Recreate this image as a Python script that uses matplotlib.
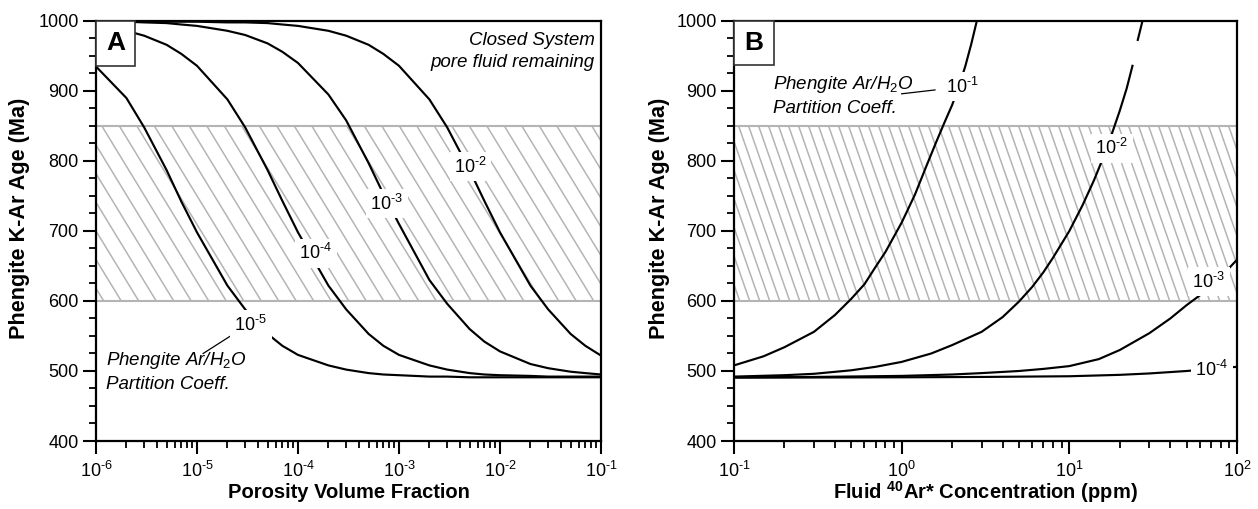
import matplotlib

matplotlib.use("Agg")

import matplotlib.pyplot as plt  # noqa: E402
import matplotlib.transforms as mtransforms  # noqa: E402
import numpy as np  # noqa: E402
from matplotlib.patches import Rectangle  # noqa: E402
from matplotlib.ticker import (FuncFormatter, LogLocator, MultipleLocator,  # noqa: E402
                               NullFormatter)

plt.rcParams.update({
    "font.family": ["Liberation Sans", "DejaVu Sans"],
    "mathtext.fontset": "custom",
    "mathtext.rm": "Liberation Sans",
    "mathtext.it": "Liberation Sans:italic",
    "mathtext.bf": "Liberation Sans:bold",
})

HYPHEN = "\u2010"

# --- panel A: age vs porosity, closed system --------------------------------
POROSITY = [1e-6, 2e-6, 3e-6, 5e-6, 7e-6, 1e-5, 2e-5, 3e-5, 5e-5, 7e-5,
            1e-4, 2e-4, 3e-4, 5e-4, 7e-4, 1e-3, 2e-3, 3e-3, 5e-3, 7e-3,
            1e-2, 2e-2, 3e-2, 5e-2, 7e-2, 1e-1]
AGE_A_1E5 = [935, 890, 848, 787, 742, 698, 622, 588, 553, 536,
             523, 508, 502, 497, 495, 494, 492, 492, 491, 491,
             491, 491, 491, 491, 491, 491]
AGE_A_1E4 = [993, 986, 979, 966, 953, 936, 888, 848, 787, 743,
             698, 622, 588, 553, 536, 523, 508, 502, 497, 495,
             494, 493, 492, 492, 492, 492]
AGE_A_1E3 = [999, 999, 998, 997, 995, 993, 986, 980, 968, 956,
             940, 895, 858, 797, 753, 710, 630, 596, 560, 542,
             528, 510, 504, 499, 497, 495]
AGE_A_1E2 = [1000, 1000, 1000, 999, 999, 999, 998, 998, 997, 995,
             993, 986, 979, 966, 953, 936, 888, 848, 787, 743,
             698, 622, 588, 553, 536, 522]
EXP_A = [-5, -4, -3, -2]
LABEL_X_A = [3.4e-5, 1.5e-4, 7.55e-4, 5.1e-3]
LABEL_Y_A = [566, 668, 739, 792]

# --- panel B: age vs fluid 40Ar* concentration --------------------------------
CONC_1E1 = [0.1, 0.15, 0.2, 0.3, 0.4, 0.5, 0.6, 0.7, 0.8, 1.0,
            1.2, 1.4, 1.6, 1.8, 2.0, 2.2, 2.4, 2.6, 2.8]
AGE_B_1E1 = [508, 521, 534, 556, 580, 603, 624, 649, 670, 712,
             752, 792, 826, 855, 880, 907, 936, 967, 999]
CONC_1E2 = [0.1, 0.2, 0.3, 0.5, 0.7, 1, 1.5, 2, 3, 4, 5, 6, 7, 8,
            10, 12, 14, 16, 18, 20, 22, 23.8, 24.7, 25.6, 27.3]
AGE_B_1E2 = [492, 494, 496, 501, 506, 513, 525, 537, 556, 577, 599, 620, 641, 662,
             700, 737, 772, 806, 840, 872, 904, 936, np.nan, 973, 1000]
CONC_1E3 = [0.1, 0.3, 1, 2, 3, 5, 7, 10, 15, 20, 30, 40, 50, 60, 70, 85, 100]
AGE_B_1E3 = [491, 491.5, 493, 495, 497, 500, 503, 507, 517, 530, 554, 575, 594,
             608, 622, 641, 659]
CONC_1E4 = [0.1, 1, 3, 10, 20, 30, 50, 70, 100]
AGE_B_1E4 = [490.5, 491, 491.5, 492.5, 494.5, 496.5, 500, 503, 506]
EXP_B = [-1, -2, -3, -4]
LABEL_X_B = [2.31, 17.9, 67.9, 70.5]
LABEL_Y_B = [906, 818, 627.6, 502]

BAND = (600, 850)
GRAY = "#b4b4b4"
FS_TICK = 13
FS_NOTE = 13.5

DPI = 100
fig = plt.figure(figsize=(12.58, 5.09), dpi=DPI)
ax_a = fig.add_axes([96 / 1258, 68 / 509, 505 / 1258, 420 / 509])
ax_b = fig.add_axes([734 / 1258, 68 / 509, 503 / 1258, 420 / 509])


def _pow10(exp):
    sign = HYPHEN if exp < 0 else ""
    return "$10^{%s%d}$" % (sign, abs(exp))


def _hatch_band(ax, step_px, slope, phase_px):
    """Gray diagonal hatching of the 600-850 Ma band, drawn as plain lines."""
    lo, hi = BAND
    ax.axhline(lo, color=GRAY, lw=1.5, zorder=1)
    ax.axhline(hi, color=GRAY, lw=1.5, zorder=1)
    bbox = ax.get_position()
    w_px = bbox.width * fig.get_figwidth() * DPI
    h_px = bbox.height * fig.get_figheight() * DPI
    band_px = (hi - lo) / 600 * h_px
    shift = band_px / slope
    trans = mtransforms.blended_transform_factory(ax.transAxes, ax.transData)
    x0 = phase_px - np.ceil(shift / step_px) * step_px
    while x0 < w_px:
        ax.plot([x0 / w_px, (x0 + shift) / w_px], [hi - 1.5, lo + 1.5],
                color=GRAY, lw=1.1, transform=trans, zorder=1)
        x0 += step_px


def _style_axis(ax, xlabel, xlabel_y, ylabel_x):
    ax.set_ylim(400, 1000)
    ax.yaxis.set_major_locator(MultipleLocator(100))
    ax.yaxis.set_minor_locator(MultipleLocator(25))
    ax.xaxis.set_major_locator(LogLocator(base=10, numticks=20))
    ax.xaxis.set_minor_locator(LogLocator(base=10, subs=np.arange(2, 10), numticks=20))
    ax.xaxis.set_major_formatter(FuncFormatter(lambda v, _: _pow10(int(round(np.log10(v))))))
    ax.xaxis.set_minor_formatter(NullFormatter())
    ax.tick_params(which="major", direction="out", length=9.5, width=1.5,
                   labelsize=FS_TICK, top=False, right=False, pad=3)
    ax.tick_params(axis="x", which="major", pad=5)
    ax.tick_params(which="minor", direction="out", length=5, width=1.3,
                   top=False, right=False)
    for spine in ax.spines.values():
        spine.set_linewidth(1.6)
        spine.set_zorder(5)
    ax.set_xlabel(xlabel, fontsize=14.5, fontweight="bold")
    ax.set_ylabel("Phengite K-Ar Age (Ma)", fontsize=15.6, fontweight="bold")
    ax.xaxis.set_label_coords(0.5, xlabel_y)
    ax.yaxis.set_label_coords(ylabel_x, 0.53)


def _panel_letter(ax, letter, w_px, h_px):
    bbox = ax.get_position()
    aw = bbox.width * fig.get_figwidth() * DPI
    ah = bbox.height * fig.get_figheight() * DPI
    ax.add_patch(Rectangle((0, 1 - h_px / ah), w_px / aw, h_px / ah,
                           transform=ax.transAxes, fc="white", ec="#333333",
                           lw=1.2, zorder=6, clip_on=False))
    ax.text(w_px / aw / 2, 1 - h_px / ah / 2, letter, transform=ax.transAxes,
            ha="center", va="center", fontsize=19, fontweight="bold", zorder=7)


def _curve_labels(ax, exps, xs, ys):
    for exp, x, y in zip(exps, xs, ys):
        ax.text(x, y, _pow10(exp), fontsize=FS_TICK, ha="center", va="center", zorder=4,
                bbox=dict(boxstyle="square,pad=0.25", fc="white", ec="none"))


# ----- panel A -----
ax = ax_a
ax.set_xscale("log")
ax.set_xlim(1e-6, 1e-1)
_hatch_band(ax, step_px=17.5, slope=29 / 17.5, phase_px=6.5)
for ages in (AGE_A_1E5, AGE_A_1E4, AGE_A_1E3, AGE_A_1E2):
    ax.plot(POROSITY, ages, color="black", lw=1.55, zorder=3)
_curve_labels(ax, EXP_A, LABEL_X_A, LABEL_Y_A)
ax.plot([1.15e-5, 2.2e-5], [525, 551], color="black", lw=0.9, zorder=3)
ax.text(0.02, 0.166, "Phengite Ar/H$_2$O\nPartition Coeff.", transform=ax.transAxes,
        ha="left", va="center", fontsize=FS_NOTE, fontstyle="italic", linespacing=1.35)
ax.text(0.988, 0.927, "Closed System\npore fluid remaining", transform=ax.transAxes,
        ha="right", va="center", fontsize=FS_NOTE, fontstyle="italic", linespacing=1.35)
_style_axis(ax, "Porosity Volume Fraction", -0.1, -0.131)
_panel_letter(ax, "A", 39, 45)

# ----- panel B -----
ax = ax_b
ax.set_xscale("log")
ax.set_xlim(0.1, 100)
_hatch_band(ax, step_px=10, slope=2.9, phase_px=5)
for conc, ages in ((CONC_1E1, AGE_B_1E1), (CONC_1E2, AGE_B_1E2),
                   (CONC_1E3, AGE_B_1E3), (CONC_1E4, AGE_B_1E4)):
    ax.plot(conc, ages, color="black", lw=1.55, zorder=3)
_curve_labels(ax, EXP_B, LABEL_X_B, LABEL_Y_B)
ax.plot([1.0, 1.58], [896, 901.5], color="black", lw=0.9, zorder=3)
ax.text(0.0775, 0.822, "Phengite Ar/H$_2$O\nPartition Coeff.", transform=ax.transAxes,
        ha="left", va="center", fontsize=FS_NOTE, fontstyle="italic", linespacing=1.35)
_style_axis(ax, r"Fluid $\mathbf{^{40}}$Ar* Concentration (ppm)", -0.091, -0.127)
_panel_letter(ax, "B", 40, 44)

fig.savefig("out.png", dpi=DPI)
plt.close(fig)
